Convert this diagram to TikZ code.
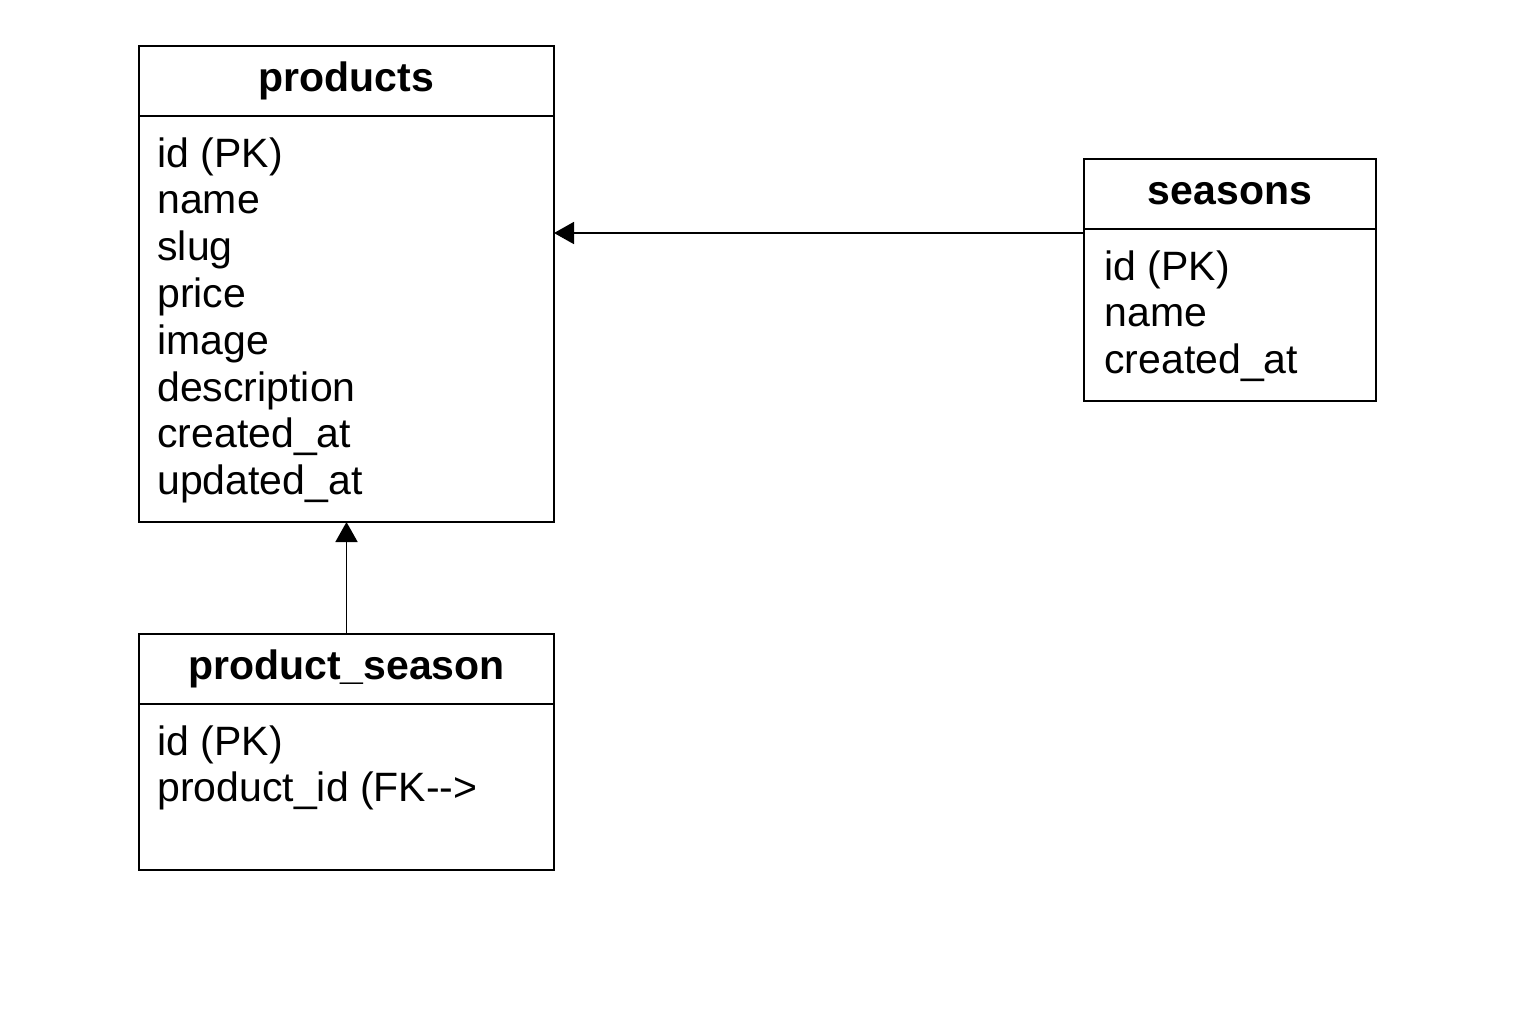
\documentclass[tikz,border=0pt]{standalone}
\usepackage{fontspec}
\setmainfont{Liberation Sans}
\usetikzlibrary{positioning,arrows.meta}

\begin{document}
\begin{tikzpicture}[
    header/.style={draw, line width=0.9pt, outer sep=0pt, minimum height=35pt, inner sep=0pt, font=\fontsize{20.5}{23.4}\selectfont\bfseries},
    tablebody/.style={draw, line width=0.9pt, outer sep=0pt, inner sep=0pt},
    attrs/.style={align=left, inner sep=0pt, font=\fontsize{20.5}{23.4}\selectfont},
    fk/.style={-{Triangle[length=10pt,width=11pt]}, line width=0.9pt}
]
    \useasboundingbox (0,0) rectangle (768pt,-512pt);

    % products table
    \node[header, minimum width=207.5pt, anchor=north west] (products) at (69.5pt,-23pt) {products};
    \node[tablebody, minimum width=207.5pt, minimum height=203pt, below=0pt of products] (productsbody) {};
    \node[attrs, below right=10.5pt and 9pt of productsbody.north west] (productsattrs)
        {id (PK)\\name\\slug\\price\\image\\description\\created\_at\\updated\_at};

    % seasons table
    \node[header, minimum width=146pt, anchor=north west] (seasons) at (542pt,-79.5pt) {seasons};
    \node[tablebody, minimum width=146pt, minimum height=86pt, below=0pt of seasons] (seasonsbody) {};
    \node[attrs, below right=10.5pt and 10pt of seasonsbody.north west] (seasonsattrs)
        {id (PK)\\name\\created\_at};

    % pivot table
    \node[header, minimum width=207.5pt, anchor=north west] (productseason) at (69.5pt,-317pt) {product\_season};
    \node[tablebody, minimum width=207.5pt, minimum height=83pt, below=0pt of productseason] (productseasonbody) {};
    \node[attrs, below right=10.5pt and 9pt of productseasonbody.north west] (productseasonattrs)
        {id (PK)\\product\_id (FK-{}->};

    % relations
    \draw[fk] (seasonsbody.north west) ++(0,-2pt) coordinate (seasonsfk) -- (seasonsfk -| productsbody.east);
    \draw[fk] (productseason.north) -- (productsbody.south);
\end{tikzpicture}
\end{document}
